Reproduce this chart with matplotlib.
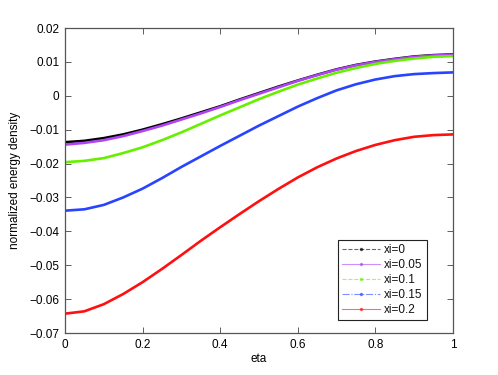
import matplotlib
matplotlib.use("Agg")
import matplotlib.pyplot as plt
from matplotlib.lines import Line2D

plt.rcParams['font.family'] = ['Liberation Sans', 'DejaVu Sans']
plt.rcParams['font.size'] = 8.5

eta = [0.0, 0.05, 0.1, 0.15, 0.2, 0.25, 0.3, 0.35, 0.4, 0.45, 0.5,
       0.55, 0.6, 0.65, 0.7, 0.75, 0.8, 0.85, 0.9, 0.95, 1.0]

xi_0 = [-0.0137, -0.0133, -0.0125, -0.0114, -0.0100, -0.0084, -0.0067, -0.0049, -0.0031, -0.0011, 0.0008,
        0.0027, 0.0045, 0.0062, 0.0078, 0.0091, 0.0101, 0.0109, 0.0116, 0.0120, 0.0122]
xi_005 = [-0.0144, -0.0139, -0.0131, -0.0119, -0.0104, -0.0088, -0.0070, -0.0052, -0.0033, -0.0013, 0.0006,
          0.0025, 0.0044, 0.0061, 0.0077, 0.0090, 0.0100, 0.0108, 0.0115, 0.0119, 0.0121]
xi_01 = [-0.0196, -0.0192, -0.0184, -0.0169, -0.0152, -0.0131, -0.0108, -0.0083, -0.0058, -0.0034, -0.0010,
         0.0012, 0.0033, 0.0051, 0.0068, 0.0082, 0.0094, 0.0103, 0.0110, 0.0115, 0.0117]
xi_015 = [-0.0339, -0.0335, -0.0322, -0.0300, -0.0274, -0.0243, -0.0210, -0.0179, -0.0148, -0.0118, -0.0088,
          -0.0060, -0.0032, -0.0007, 0.0016, 0.0034, 0.0048, 0.0058, 0.0064, 0.0067, 0.0069]
xi_02 = [-0.0643, -0.0636, -0.0615, -0.0585, -0.0550, -0.0511, -0.0470, -0.0428, -0.0388, -0.0349, -0.0311,
         -0.0275, -0.0241, -0.0211, -0.0185, -0.0163, -0.0145, -0.0131, -0.0121, -0.0116, -0.0114]

labels = ['xi=0', 'xi=0.05', 'xi=0.1', 'xi=0.15', 'xi=0.2']
series = [xi_0, xi_005, xi_01, xi_015, xi_02]
colors = ['#000000', '#b044f4', '#66f000', '#2844ff', '#ff1010']
styles = ['--', '-', '--', '-.', '-']

fig = plt.figure(figsize=(4.98, 3.75), dpi=100)
ax = fig.add_axes([0.1305, 0.112, 0.779, 0.8133])

for ys, c in zip(series, colors):
    ax.plot(eta, ys, color=c, lw=1.9, solid_capstyle='round', solid_joinstyle='round')

handles = [Line2D([], [], color=c, ls=s, lw=0.8, alpha=0.6, marker='.',
                  markersize=3, markerfacecolor=c, markeredgecolor=c)
           for c, s in zip(colors, styles)]
leg = ax.legend(handles, labels, loc='lower right', fancybox=False,
                edgecolor='#222222', framealpha=1, handlelength=3.2,
                borderpad=0.35, labelspacing=0.25, handletextpad=0.4,
                bbox_to_anchor=(0.948, 0.022))
leg.get_frame().set_linewidth(0.8)
for t in leg.get_texts():
    t.set_color('#111111')

ax.set_xlim(0, 1)
ax.set_ylim(-0.07, 0.02)
ax.set_xticks([0, 0.2, 0.4, 0.6, 0.8, 1])
ax.set_xticklabels(['0', '0.2', '0.4', '0.6', '0.8', '1'])
yt = [-0.07, -0.06, -0.05, -0.04, -0.03, -0.02, -0.01, 0, 0.01, 0.02]
ax.set_yticks(yt)
ax.set_yticklabels(['\u22120.07', '\u22120.06', '\u22120.05', '\u22120.04', '\u22120.03',
                    '\u22120.02', '\u22120.01', '0', '0.01', '0.02'])
ax.tick_params(direction='in', top=True, right=True, length=4, width=0.6,
               color='#444444', pad=4)
for sp in ax.spines.values():
    sp.set_color('#555555')
    sp.set_linewidth(0.9)

ax.set_xlabel('eta', labelpad=2)
ax.set_ylabel('normalized energy density', labelpad=6)

fig.savefig('out.png', dpi=100)
